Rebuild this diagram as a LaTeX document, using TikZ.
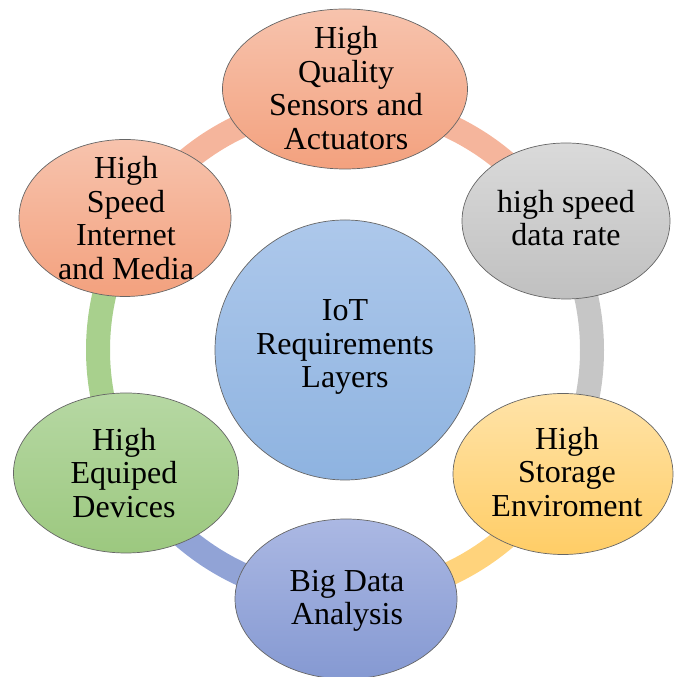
\documentclass[tikz,border=0pt]{standalone}
\usepackage{fontspec}
\setmainfont{Liberation Serif}
\usetikzlibrary{shapes.geometric,calc}
\definecolor{salT}{HTML}{F7C3AD}
\definecolor{salB}{HTML}{F3A17E}
\definecolor{salR}{HTML}{F5B59C}
\definecolor{gryT}{HTML}{DADADA}
\definecolor{gryB}{HTML}{C0C0C0}
\definecolor{gryR}{HTML}{C6C6C6}
\definecolor{ylwT}{HTML}{FFE3A8}
\definecolor{ylwB}{HTML}{FFCD66}
\definecolor{ylwR}{HTML}{FFD37C}
\definecolor{bluT}{HTML}{ABB8E3}
\definecolor{bluB}{HTML}{8599D2}
\definecolor{bluR}{HTML}{91A3D6}
\definecolor{grnT}{HTML}{B6D8A3}
\definecolor{grnB}{HTML}{9CC87F}
\definecolor{grnR}{HTML}{A8D08D}
\definecolor{cenT}{HTML}{ADC8EB}
\definecolor{cenB}{HTML}{8EB3E0}
\tikzset{
  blob/.style={ellipse, draw=black!60, line width=0.7pt, inner sep=0pt},
  lbl/.style={align=center, inner sep=0pt, font=\fontsize{32}{33.5}\selectfont},
  ringseg/.style={line width=24pt}
}
\begin{document}
\begin{tikzpicture}[x=1pt,y=1pt]
\useasboundingbox (0,0) rectangle (673,677);
\coordinate (ring) at (345,327);
% ring segments
\draw[ringseg, salR] ($(ring)+(30:247)$) arc[start angle=30, end angle=90, radius=247];
\draw[ringseg, salR] ($(ring)+(90:247)$) arc[start angle=90, end angle=150, radius=247];
\draw[ringseg, grnR] ($(ring)+(150:247)$) arc[start angle=150, end angle=210, radius=247];
\draw[ringseg, bluR] ($(ring)+(210:247)$) arc[start angle=210, end angle=270, radius=247];
\draw[ringseg, ylwR] ($(ring)+(270:247)$) arc[start angle=270, end angle=330, radius=247];
\draw[ringseg, gryR] ($(ring)+(330:247)$) arc[start angle=330, end angle=390, radius=247];
% central circle
\node[blob, circle, minimum size=260, top color=cenT, bottom color=cenB] (cen) at (ring) {};
\node[lbl] (cent) at (345,330) {IoT\\Requirements\\Layers};
% outer ellipses
\node[blob, minimum width=245, minimum height=160, top color=salT, bottom color=salB] (q) at (345,588) {};
\node[lbl] (qt) at (346,589) {High\\Quality\\Sensors and\\Actuators};
\node[blob, minimum width=208, minimum height=156, top color=gryT, bottom color=gryB] (hs) at (566,456) {};
\node[lbl] (hst) at (566,459) {high speed\\data rate};
\node[blob, minimum width=220, minimum height=161, top color=ylwT, bottom color=ylwB] (st) at (563,203) {};
\node[lbl] (stt) at (567,205) {High\\Storage\\Enviroment};
\node[blob, minimum width=222, minimum height=160, top color=bluT, bottom color=bluB] (bd) at (346,78) {};
\node[lbl] (bdt) at (347,76) {Big Data\\Analysis};
\node[blob, minimum width=225, minimum height=160, top color=grnT, bottom color=grnB] (ed) at (126,204) {};
\node[lbl] (edt) at (124,204) {High\\Equiped\\Devices};
\node[blob, minimum width=212, minimum height=157, top color=salT, bottom color=salB] (in) at (125,459) {};
\node[lbl] (int) at (126,459) {High\\Speed\\Internet\\and Media};
\end{tikzpicture}
\end{document}
